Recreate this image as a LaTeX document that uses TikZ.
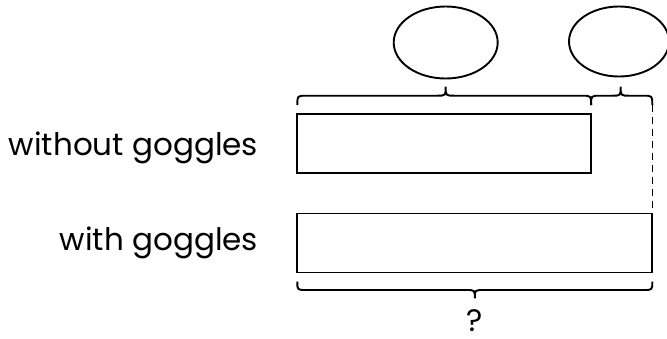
\documentclass[tikz,border=0pt]{standalone}
\usepackage{fontspec}
\setmainfont{Poppins}
\usetikzlibrary{shapes.geometric,calc}
\begin{document}
\begin{tikzpicture}[x=1pt,y=-1pt,
  line width=1.9pt,
  bar/.style={draw, rectangle, minimum height=59pt, inner sep=0pt, outer sep=0pt},
  oval/.style={draw, ellipse, inner sep=0pt, outer sep=0pt},
  lbl/.style={anchor=base east, inner sep=0pt, font=\fontsize{31}{34}\selectfont},
  qlbl/.style={anchor=base, inner sep=0pt, font=\fontsize{31}{34}\selectfont}]
\useasboundingbox (0,0) rectangle (667,338);
% bars
\node[bar, minimum width=293.7pt] (top) at (444.2,143.8) {};
\node[bar, minimum width=355pt] (bot) at (474.8,243) {};
% ovals
\node[oval, minimum width=104pt, minimum height=72pt] (o1) at (445.7,42.5) {};
\node[oval, minimum width=100pt, minimum height=70pt] (o2) at (619,41.5) {};
% labels
\node[lbl] (l1) at (259,155) {without goggles};
\node[lbl] (l2) at (259,250) {with goggles};
\node[qlbl] (q) at (474.8,331.5) {?};
% top braces
\coordinate (b1a) at (top.north west |- 0,105);
\coordinate (b1b) at (top.north east |- 0,105);
\coordinate (b2b) at (bot.north east |- 0,105);
\draw (b1a) .. controls +(0,-9.3) .. +(9,-9.3) -- (436.7,95.7) .. controls (445.7,95.7) .. (445.7,86.7)
  .. controls (445.7,95.7) .. (454.7,95.7) -- ($(b1b)+(-9,-9.3)$) .. controls ($(b1b)+(0,-9.3)$) .. (b1b);
\draw (b1b) .. controls +(0,-9.3) .. +(9,-9.3) -- (612,95.7) .. controls (620.7,95.7) .. (620.7,86.7)
  .. controls (620.7,95.7) .. (629.4,95.7) -- ($(b2b)+(-9,-9.3)$) .. controls ($(b2b)+(0,-9.3)$) .. (b2b);
% dashed guide
\draw[dashed, line width=1.4pt, dash pattern=on 7pt off 5pt] (b2b) -- (bot.north east);
% bottom brace
\coordinate (b3a) at (bot.south west |- 0,281.7);
\coordinate (b3b) at (bot.south east |- 0,281.7);
\draw (b3a) .. controls +(0,8.3) .. +(9,8.3) -- (465.8,290) .. controls (474.8,290) .. (474.8,298.3)
  .. controls (474.8,290) .. (483.8,290) -- ($(b3b)+(-9,8.3)$) .. controls ($(b3b)+(0,8.3)$) .. (b3b);
\end{tikzpicture}
\end{document}
